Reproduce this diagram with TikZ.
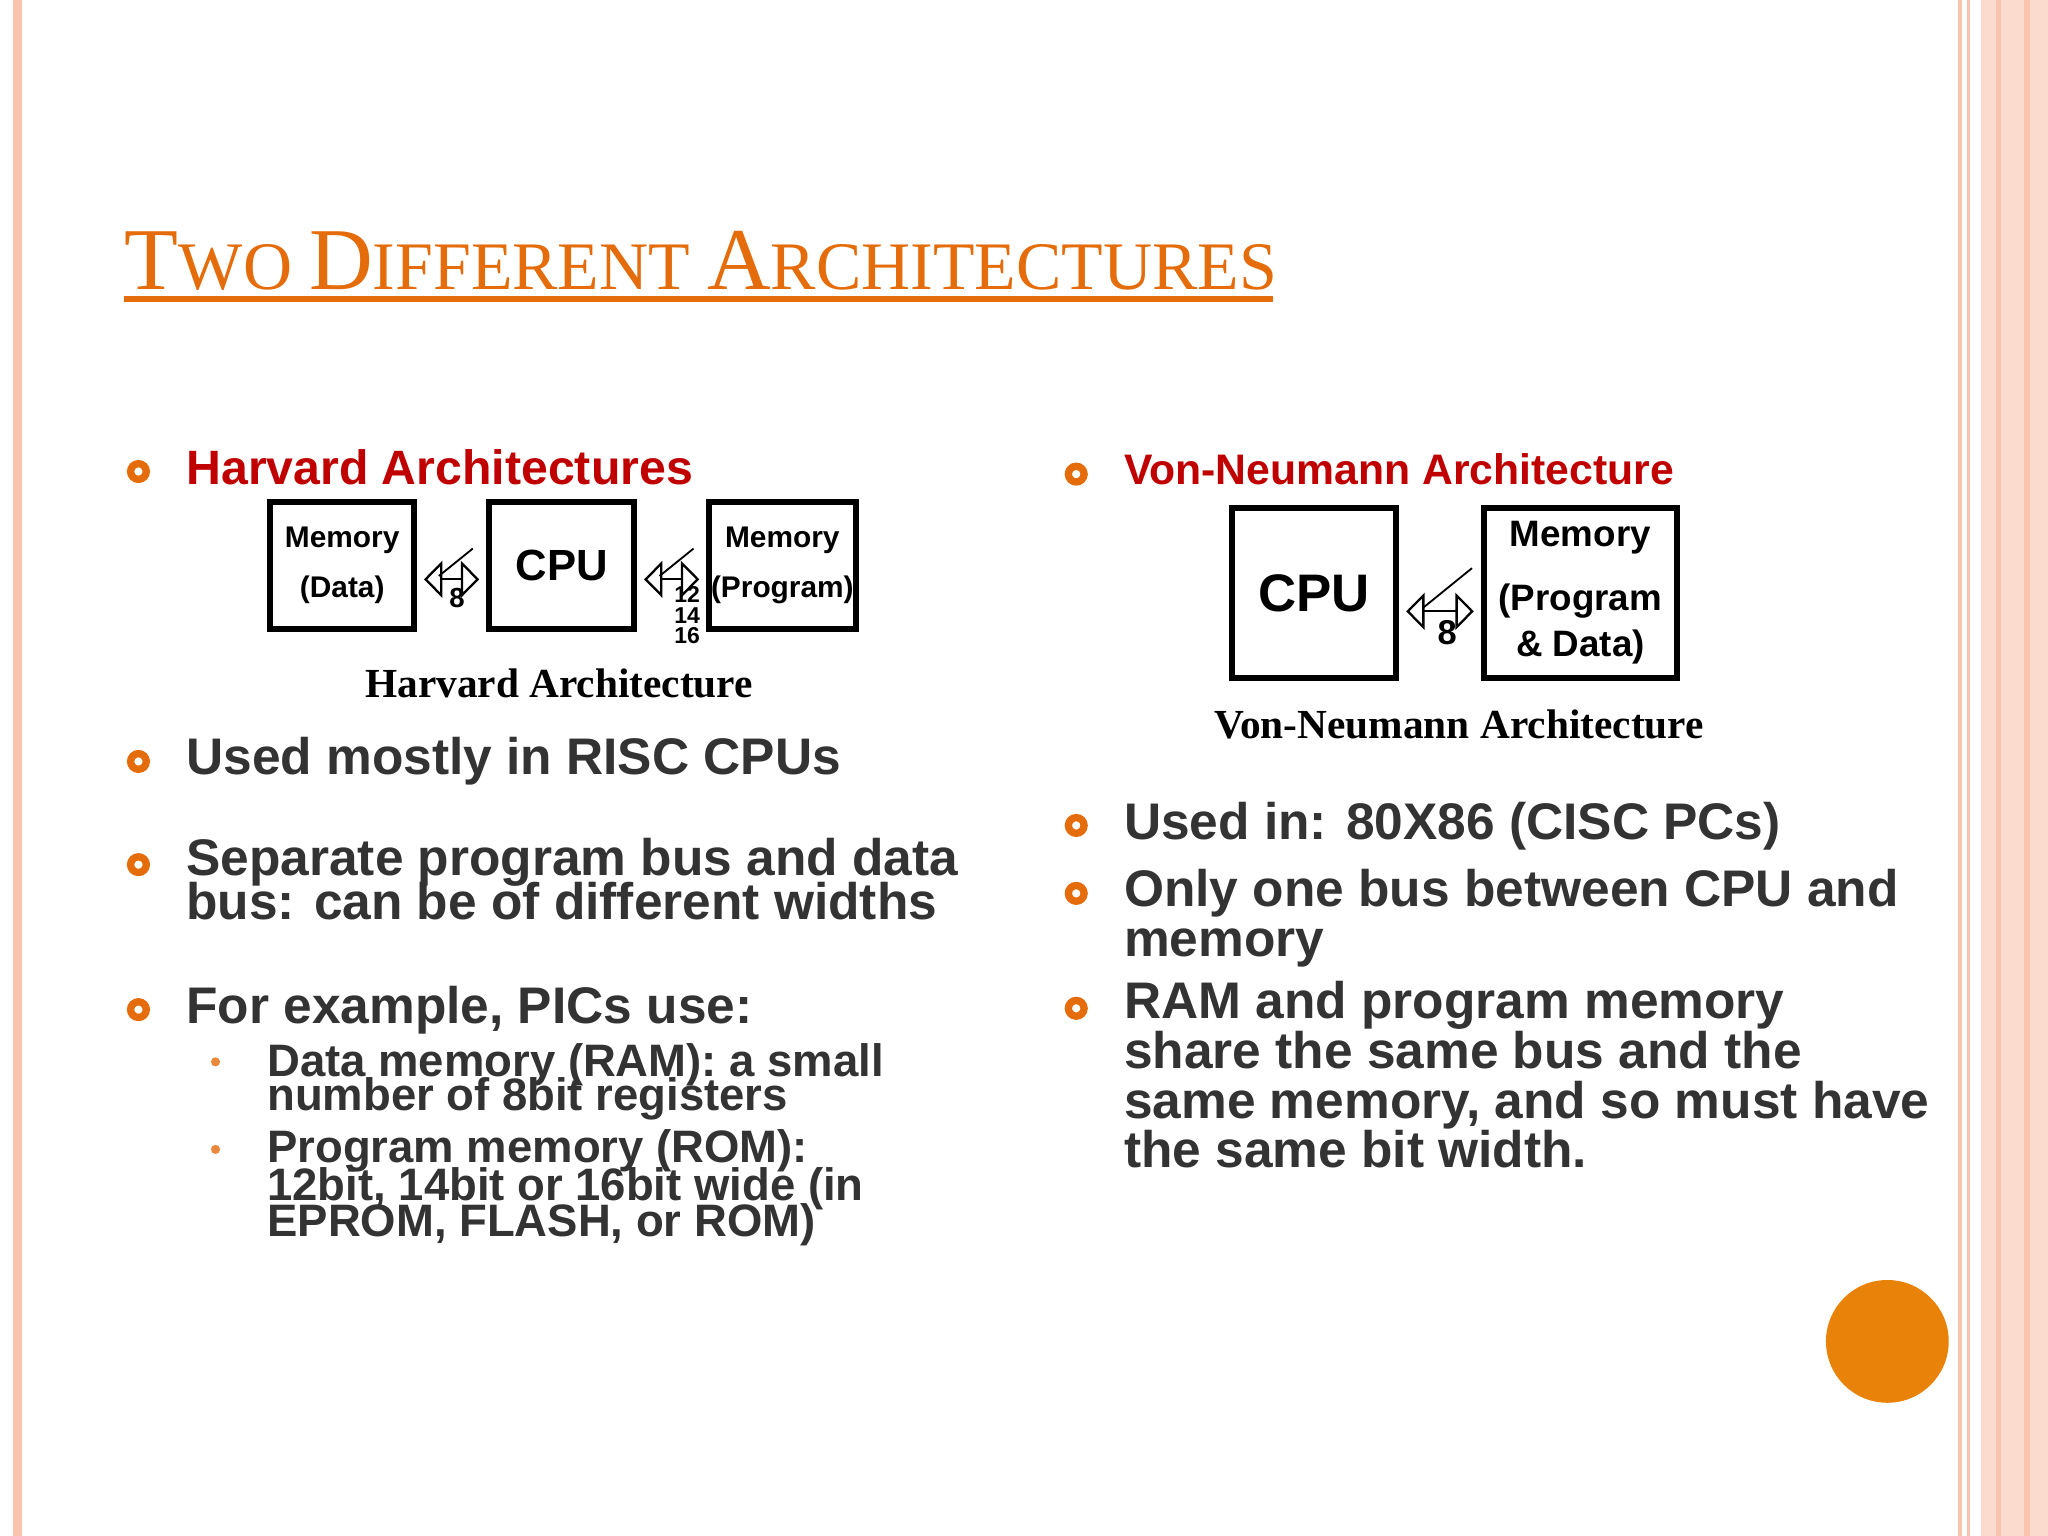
\documentclass[tikz,border=0pt]{standalone}
\usepackage{fontspec}
\setmainfont{Liberation Sans}
\newfontfamily\serf{Liberation Serif}
\usetikzlibrary{arrows.meta}
\definecolor{org}{HTML}{E46C0A}
\definecolor{dred}{HTML}{C00000}
\definecolor{pk}{HTML}{F9C3AE}
\definecolor{txt}{HTML}{333333}
\begin{document}
\begin{tikzpicture}[x=0.01cm,y=-0.01cm,
  bul/.style={circle,draw=org,line width=1.6pt,minimum size=0.12cm,inner sep=0pt},
  sbul/.style={circle,fill=org!80,minimum size=0.07cm,inner sep=0pt},
  txtb/.style={anchor=base west,font=\fontsize{11.2}{9.5}\selectfont\bfseries,text=txt,align=left,inner sep=0pt},
  txtc/.style={anchor=base west,font=\fontsize{11.2}{10.8}\selectfont\bfseries,text=txt,align=left,inner sep=0pt},
  stxt/.style={anchor=base west,font=\fontsize{9.9}{8.1}\selectfont\bfseries,text=txt,align=left,inner sep=0pt},
  head/.style={anchor=base west,font=\fontsize{10.5}{12}\selectfont\bfseries,text=dred,inner sep=0pt},
  box/.style={draw,line width=1.3pt,inner sep=0pt,align=center},
  bus/.style={{Triangle[open,length=4pt,width=8pt]}-{Triangle[open,length=4pt,width=8pt]},line width=0.5pt},
  small/.style={font=\fontsize{6}{7}\selectfont\bfseries,inner sep=0pt}]
\useasboundingbox (0,0) rectangle (1568,1176);
\fill[white] (0,0) rectangle (1568,1176);
% borders
\fill[pk] (10,0) rectangle (17,1176);
\fill[pk] (1499,0) rectangle (1502,1176);
\fill[pk] (1506,0) rectangle (1508,1176);
\fill[pk!60] (1517,0) rectangle (1568,1176);
\fill[pk] (1528,0) rectangle (1532,1176);
\fill[pk] (1550,0) rectangle (1554,1176);
% title
\node[anchor=base west,inner sep=0pt,text=org,font=\serf] (title) at (95,222)
 {\fontsize{19.2}{19}\selectfont T\fontsize{14.8}{15}\selectfont WO \fontsize{19.2}{19}\selectfont D\fontsize{14.8}{15}\selectfont IFFERENT \fontsize{19.2}{19}\selectfont A\fontsize{14.8}{15}\selectfont RCHITECTURES};
\draw[org,line width=1.2pt] (95,229) -- (975,229);
% left column
\node[bul] (b1) at (106,361) {};
\node[head] (h1) at (142,371) {Harvard Architectures};
\node[box,minimum width=1.1cm,minimum height=0.97cm,font=\fontsize{6.5}{11}\selectfont\bfseries] (md) at (262,433) {Memory\\(Data)};
\node[box,minimum width=1.11cm,minimum height=0.97cm,font=\fontsize{9.5}{10}\selectfont\bfseries] (cpu1) at (430,433) {CPU};
\node[box,minimum width=1.12cm,minimum height=0.97cm,font=\fontsize{6.5}{11}\selectfont\bfseries] (mp) at (599,433) {Memory\\(Program)};
\draw[bus] ([xshift=1.5pt,yshift=-3]md.east) -- ([xshift=-1.5pt,yshift=-3]cpu1.west);
\draw[bus] ([xshift=1.5pt,yshift=-3]cpu1.east) -- ([xshift=-1.5pt,yshift=-3]mp.west);
\draw (336,441) -- (362,420);
\draw (505,441) -- (531,420);
\node[small] (l8) at (350,458) {8};
\node[small,font=\fontsize{5}{4.5}\selectfont\bfseries,align=center] (l12) at (526,471) {12\\14\\16};
\node[font=\serf\fontsize{9}{9}\selectfont\bfseries] (cap1) at (428,523) {Harvard Architecture};
\node[bul] (b2) at (106,583) {};
\node[txtb] (t2) at (142,593) {Used mostly in RISC CPUs};
\node[bul] (b3) at (106,662) {};
\node[txtb] (t3) at (142,704) {Separate program bus and data\\[-2pt]bus: can be of different widths};
\node[bul] (b4) at (106,773) {};
\node[txtb] (t4) at (142,784) {For example, PICs use:};
\node[sbul] (s1) at (165,813) {};
\node[stxt] (st1) at (204,850) {Data memory (RAM): a small\\[-2.8pt]number of 8bit registers};
\node[sbul] (s2) at (165,880) {};
\node[stxt] (st2) at (204,947) {Program memory (ROM):\\[-2.2pt]12bit, 14bit or 16bit wide (in\\[-2.2pt]EPROM, FLASH, or ROM)};
% right column
\node[bul] (b5) at (824,363) {};
\node[head,font=\fontsize{9.3}{12}\selectfont\bfseries] (h2) at (860,371) {Von-Neumann Architecture};
\node[box,minimum width=1.26cm,minimum height=1.3cm,font=\fontsize{11.5}{12}\selectfont\bfseries] (cpu2) at (1006,454) {CPU};
\node[box,minimum width=1.48cm,minimum height=1.3cm,font=\fontsize{8}{10}\selectfont\bfseries] (mem2) at (1210,454) {Memory\\[4pt](Program\\\& Data)};
\draw[bus] ([xshift=1.5pt,yshift=-4]cpu2.east) -- ([xshift=-1.5pt,yshift=-4]mem2.west);
\draw (1090,465) -- (1127,435);
\node[small,font=\fontsize{7.5}{8}\selectfont\bfseries] (l8b) at (1108,484) {8};
\node[font=\serf\fontsize{9}{9}\selectfont\bfseries] (cap2) at (1117,555) {Von-Neumann Architecture};
\node[bul] (b6) at (824,632) {};
\node[txtb] (t6) at (860,643) {Used in: 80X86 (CISC PCs)};
\node[bul] (b7) at (824,684) {};
\node[txtc] (t7) at (860,732) {Only one bus between CPU and\\memory};
\node[bul] (b8) at (824,772) {};
\node[txtc] (t8) at (860,894) {RAM and program memory\\share the same bus and the\\same memory, and so must have\\the same bit width.};
\fill[org!85!yellow] (1445,1027) circle (47);
\end{tikzpicture}
\end{document}
